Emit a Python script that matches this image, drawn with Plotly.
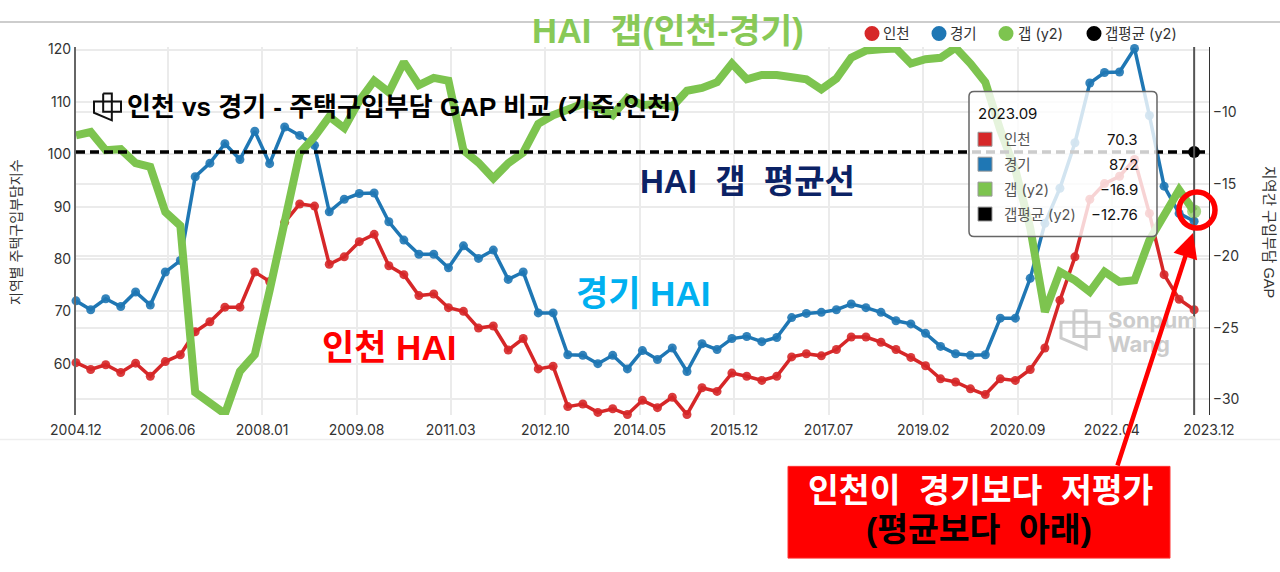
import pandas as pd
import plotly.graph_objects as go

dates = [d.strftime("%Y-%m-%d") for d in pd.date_range("2004-12-01", "2023-09-01", freq="3MS")]
incheon = [60.2,58.9,59.8,58.3,60.1,57.6,60.4,61.7,66.1,68.0,70.8,70.8,77.5,75.7,87.0,90.5,90.1,79.0,80.4,83.3,84.7,78.7,77.0,73.0,73.3,70.7,70.0,66.8,67.2,62.6,64.8,59.0,59.5,51.8,52.3,50.7,51.4,50.3,53.0,51.6,53.6,50.3,55.4,54.7,58.2,57.6,56.8,57.6,61.3,61.9,61.5,62.7,65.1,65.1,64.1,62.7,61.2,59.6,57.1,56.5,55.2,54.1,57.1,56.8,58.9,63.0,72.1,80.4,91.4,94.4,95.8,99.0,88.7,77.0,72.3,70.3]
gyeonggi = [72.0,70.3,72.4,70.9,73.7,71.2,77.5,79.7,95.7,98.3,102.0,99.0,104.4,98.2,105.2,103.6,101.7,89.0,91.4,92.5,92.6,87.1,83.6,80.9,80.9,78.3,82.5,80.1,81.7,76.1,77.5,69.7,69.7,61.7,61.6,60.0,61.6,59.0,62.5,60.8,63.0,58.5,63.8,62.7,64.8,65.2,64.2,65.0,68.8,69.6,69.8,70.3,71.4,70.7,69.8,68.2,67.6,65.8,63.3,61.9,61.6,61.7,68.7,68.7,76.3,86.8,93.5,102.2,113.6,115.6,115.7,120.2,107.4,93.9,88.7,87.2]
gap = [-11.6,-11.37,-12.64,-12.57,-13.54,-13.8,-16.94,-17.9,-29.5,-30.2,-31.0,-28.03,-26.88,-22.4,-17.6,-12.85,-11.7,-10.3,-11.1,-9.2,-7.8,-8.6,-6.5,-8.1,-7.6,-7.8,-12.64,-13.5,-14.6,-13.55,-12.8,-10.8,-10.2,-9.86,-9.4,-9.7,-10.2,-9.0,-9.5,-9.4,-9.6,-8.5,-8.3,-7.9,-6.6,-7.7,-7.4,-7.4,-7.6,-7.7,-8.4,-7.65,-6.2,-5.7,-5.6,-5.55,-6.6,-6.3,-6.2,-5.5,-6.6,-7.9,-11.25,-14.0,-18.05,-23.9,-21.1,-21.7,-22.5,-21.1,-21.8,-21.7,-18.9,-17.15,-15.4,-16.9]
gap_avg_x = ["2004-12-01", "2023-12-01"]
gap_avg = [-12.76, -12.76]
tick_dates = ["2004-12-01","2006-06-15","2008-01-15","2009-08-15","2011-03-15","2012-10-15","2014-05-15","2015-12-15","2017-07-15","2019-02-15","2020-09-15","2022-04-15","2023-12-01"]
tick_labels = ["2004.12","2006.06","2008.01","2009.08","2011.03","2012.10","2014.05","2015.12","2017.07","2019.02","2020.09","2022.04","2023.12"]
legend_names = ["인천", "경기", "갭 (y2)", "갭평균 (y2)"]
tooltip_values = ["70.3", "87.2", "−16.9", "−12.76"]

RED, BLUE, GREEN, BLACK = "#d62728", "#1f77b4", "#7dc44f", "#000000"
UI = "Inter, Noto Sans CJK KR, sans-serif"
KR = "Liberation Sans, Noto Sans CJK KR, sans-serif"
SP = "\u00a0\u00a0"

L, R, T, B = 76.0, 1209.0, 46.5, 415.5
def px(x): return (x - L) / (R - L)
def py(y): return (B - y) / (B - T)

def path(points, close=False):
    s = "M" + " L".join(f"{px(x):.5f},{py(y):.5f}" for x, y in points)
    return s + (" Z" if close else "")

def rect(x0, y0, x1, y1, **kw):
    return dict(type="rect", xref="paper", yref="paper", x0=px(x0), x1=px(x1), y0=py(y0), y1=py(y1), **kw)

def label(x, y, text, size, color="#222", anchor="center", bold=False, family=UI, **kw):
    return dict(xref="paper", yref="paper", x=px(x), y=py(y), text=f"<b>{text}</b>" if bold else text,
                showarrow=False, xanchor=anchor, yanchor="middle", font=dict(size=size, color=color, family=family), **kw)

def logo(x, y, s, color, width):
    pts = [(0.34,0.0),(0.66,0.0),(0.66,0.3),(1.0,0.3),(1.0,0.68),(0.66,0.68),(0.66,1.0),(0.0,0.72),(0.0,0.3),(0.34,0.3),(0.34,0.0)]
    inner = [(0.34,0.3),(0.34,0.68),(0.66,0.68),(0.66,0.3),(0.34,0.3)]
    out = []
    for shape in (pts, inner):
        out.append(dict(type="path", xref="paper", yref="paper",
                        path=path([(x + a * s, y + b * s) for a, b in shape]),
                        line=dict(color=color, width=width)))
    return out

fig = go.Figure()
fig.add_trace(go.Scatter(x=dates, y=incheon, name="인천", mode="lines+markers", cliponaxis=False,
                         line=dict(color=RED, width=3.5), marker=dict(size=9, color=RED, opacity=0.9)))
fig.add_trace(go.Scatter(x=dates, y=gyeonggi, name="경기", mode="lines+markers", cliponaxis=False,
                         line=dict(color=BLUE, width=3.5), marker=dict(size=9, color=BLUE, opacity=0.9)))
fig.add_trace(go.Scatter(x=dates, y=gap, name="갭 (y2)", mode="lines+markers", yaxis="y2", cliponaxis=False,
                         line=dict(color=GREEN, width=8),
                         marker=dict(size=[0] * (len(gap) - 1) + [14], color=GREEN, line=dict(width=0))))
fig.add_trace(go.Scatter(x=gap_avg_x, y=gap_avg, name="갭평균 (y2)", mode="lines", yaxis="y2", cliponaxis=False,
                         line=dict(color=BLACK, width=3.5, dash="9px,5px")))
fig.add_trace(go.Scatter(x=dates[-1:], y=gap_avg[-1:], mode="markers", yaxis="y2", showlegend=False, cliponaxis=False,
                         marker=dict(size=12, color=BLACK)))

shapes = [
    dict(type="line", xref="paper", yref="paper", x0=px(0), x1=px(1280), y0=py(21.5), y1=py(21.5), line=dict(color="#bdbdbd", width=1.5)),
    dict(type="line", xref="paper", yref="paper", x0=px(0), x1=px(1280), y0=py(440), y1=py(440), line=dict(color="#eeeeee", width=1.5)),
    dict(type="line", xref="x", yref="paper", x0=dates[-1], x1=dates[-1], y0=0, y1=1, line=dict(color="#555555", width=2)),
    dict(type="circle", xref="paper", yref="paper", x0=px(1179), x1=px(1215), y0=py(192), y1=py(228), line=dict(color="#ff0000", width=5.5)),
    rect(788, 467, 1170, 559, fillcolor="#ff0000", line=dict(color="#ff3333", width=1)),
]
# tooltip box
bx0, by0, bx1, by1, r = 969, 91, 1157, 236.5, 5
shapes.append(dict(type="path", xref="paper", yref="paper", layer="above", fillcolor="rgba(255,255,255,0.8)",
    line=dict(color="#666666", width=1.5),
    path=(f"M{px(bx0+r):.5f},{py(by0):.5f} L{px(bx1-r):.5f},{py(by0):.5f} Q{px(bx1):.5f},{py(by0):.5f} {px(bx1):.5f},{py(by0+r):.5f} "
          f"L{px(bx1):.5f},{py(by1-r):.5f} Q{px(bx1):.5f},{py(by1):.5f} {px(bx1-r):.5f},{py(by1):.5f} "
          f"L{px(bx0+r):.5f},{py(by1):.5f} Q{px(bx0):.5f},{py(by1):.5f} {px(bx0):.5f},{py(by1-r):.5f} "
          f"L{px(bx0):.5f},{py(by0+r):.5f} Q{px(bx0):.5f},{py(by0):.5f} {px(bx0+r):.5f},{py(by0):.5f} Z")))
rows = [139, 164, 189, 214]
cols = [RED, BLUE, GREEN, BLACK]
annos = [label(976, 113, "2023.09", 15, "#111", "left")]
for yy, c, n, v in zip(rows, cols, legend_names, tooltip_values):
    shapes.append(rect(978, yy - 7, 992, yy + 7, fillcolor=c, line=dict(color="#999999", width=1), layer="above"))
    annos.append(label(1002, yy, n, 14.5, "#555", "left"))
    annos.append(label(1140, yy, v, 15, "#111", "right"))

# custom legend
for cx, tx, c, n in zip([872, 939, 1006, 1094], [881, 948, 1016, 1103], cols, legend_names):
    shapes.append(dict(type="circle", xref="paper", yref="paper", x0=px(cx - 7.5), x1=px(cx + 7.5), y0=py(33 + 7.5), y1=py(33 - 7.5),
                       fillcolor=c, line=dict(width=0)))
    annos.append(label(tx, 33, n, 14.5, "#333", "left"))

shapes += logo(94, 93, 27, "#111111", 2)
shapes += logo(1061, 311, 38, "#cccccc", 3)

annos += [
    label(125, 107, "인천 vs 경기 - 주택구입부담 GAP 비교 (기준:인천)", 26, "#000", "left", True, KR),
    label(668, 30, f"HAI{SP}갭(인천-경기)", 34.5, "#88c957", "center", True, KR),
    label(748, 181, f"HAI{SP}갭{SP}평균선", 33, "#0b2265", "center", True, KR),
    label(643, 294, "경기 HAI", 35, "#00b0f0", "center", True, KR),
    label(389, 348, "인천 HAI", 35, "#ff0000", "center", True, KR),
    label(980, 491, f"인천이{SP}경기보다{SP}저평가", 33.5, "#ffffff", "center", True, KR),
    label(979, 530, f"(평균보다{SP}아래)", 33.5, "#000000", "center", True, KR),
    label(1106, 320, "Sonpum", 22, "#cccccc", "left", True, "Inter, sans-serif"),
    label(1106, 344, "Wang", 22, "#cccccc", "left", True, "Inter, sans-serif"),
    label(16, 232, "지역별 주택구입부담지수", 14, "#333", "center", False, KR, textangle=-90),
    label(1269, 232, "지역간 구입부담 GAP", 14.5, "#333", "center", False, KR, textangle=90),
    dict(xref="paper", yref="paper", axref="pixel", ayref="pixel", x=px(1193), y=py(233), ax=1117 - 1193, ay=467 - 233,
         text="", showarrow=True, arrowhead=2, arrowsize=1.1, arrowwidth=4.5, arrowcolor="#ff0000"),
]

fig.update_layout(
    width=1280, height=572, autosize=False, showlegend=False,
    paper_bgcolor="#ffffff", plot_bgcolor="#ffffff",
    margin=dict(l=L, r=1280 - R, t=T, b=572 - B, pad=0),
    font=dict(family=UI, size=14, color="#333333"),
    xaxis=dict(type="date", range=["2004-12-01", "2023-12-01"], tickvals=tick_dates, ticktext=tick_labels,
               showgrid=True, gridcolor="#ebebeb", gridwidth=1.5, ticks="outside", ticklen=2, tickcolor="rgba(0,0,0,0)",
               tickfont=dict(size=14, color="#333333"), showline=False, zeroline=False),
    yaxis=dict(range=[50.2, 120.48], tickvals=[60, 70, 80, 90, 100, 110, 120], showgrid=True, gridcolor="#ebebeb", gridwidth=1.5,
               showline=True, linecolor="#666666", linewidth=2, ticks="", tickfont=dict(size=14, color="#333333"), zeroline=False),
    yaxis2=dict(overlaying="y", side="right", range=[-31.08, -5.45], tickvals=[-10, -15, -20, -25, -30], showgrid=True,
                gridcolor="#ebebeb", gridwidth=1.5, showline=True, linecolor="#333333", linewidth=1, ticks="", ticklen=0,
                tickfont=dict(size=14, color="#333333"), zeroline=False),
    shapes=shapes, annotations=annos,
)
fig.write_html("out.html", config={"displayModeBar": False}, post_script="document.body.style.margin='0';")
